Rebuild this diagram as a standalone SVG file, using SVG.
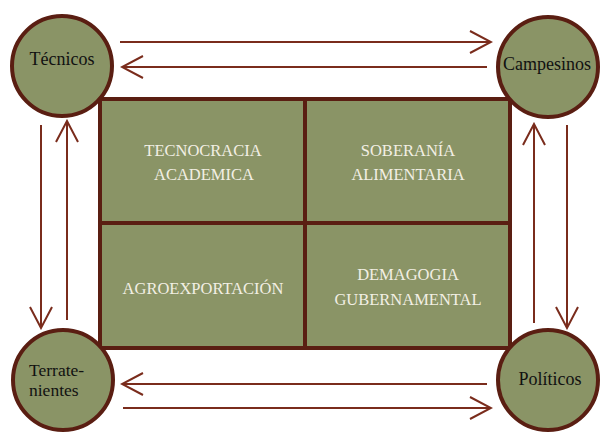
<svg xmlns="http://www.w3.org/2000/svg" width="600" height="432" viewBox="0 0 600 432">
<defs>
<style>
.cell{fill:#8a9466;stroke:#5a1e12;stroke-width:4}
.node{fill:#8a9466;stroke:#5a1e12;stroke-width:4}
.ct{font-family:"Liberation Serif",serif;font-size:16.5px;fill:#f2efe4;text-anchor:middle}
.nt{font-family:"Liberation Serif",serif;font-size:18px;fill:#111;text-anchor:middle}
.ar{stroke:#7a2c1c;stroke-width:2;fill:none;marker-end:url(#ah)}
</style>
<marker id="ah" viewBox="0 0 24 24" refX="22" refY="12" markerWidth="24" markerHeight="24" markerUnits="userSpaceOnUse" orient="auto">
<path d="M1,1 L22,12 L1,23" fill="none" stroke="#7a2c1c" stroke-width="2"/>
</marker>
</defs>
<rect width="600" height="432" fill="#fff"/>
<g id="grid">
<rect class="cell" x="100" y="99" width="205" height="124"/>
<rect class="cell" x="305" y="99" width="205" height="124"/>
<rect class="cell" x="100" y="223" width="205" height="125"/>
<rect class="cell" x="305" y="223" width="205" height="125"/>
<text class="ct" x="203" y="156">TECNOCRACIA</text>
<text class="ct" x="204" y="180">ACADEMICA</text>
<text class="ct" x="408" y="156">SOBERANÍA</text>
<text class="ct" x="408" y="180">ALIMENTARIA</text>
<text class="ct" x="203" y="294">AGROEXPORTACIÓN</text>
<text class="ct" x="408" y="280">DEMAGOGIA</text>
<text class="ct" x="408" y="305">GUBERNAMENTAL</text>
</g>
<g id="connectors">
<line class="ar" x1="120" y1="42" x2="491" y2="42"/>
<line class="ar" x1="487" y1="67" x2="122" y2="67"/>
<line class="ar" x1="487" y1="384" x2="122" y2="384"/>
<line class="ar" x1="123" y1="408" x2="491" y2="408"/>
<line class="ar" x1="41" y1="125" x2="41" y2="328"/>
<line class="ar" x1="67" y1="320" x2="67" y2="121"/>
<line class="ar" x1="534" y1="323" x2="534" y2="124"/>
<line class="ar" x1="567" y1="125" x2="567" y2="328"/>
</g>
<g id="tecnicos">
<circle class="node" cx="62" cy="66" r="50"/>
<text class="nt" x="62" y="65">Técnicos</text>
</g>
<g id="campesinos">
<circle class="node" cx="548" cy="67" r="50"/>
<text class="nt" x="547" y="70">Campesinos</text>
</g>
<g id="terratenientes">
<circle class="node" cx="63" cy="380" r="50"/>
<text class="nt" x="29" y="376" style="text-anchor:start;font-size:17.5px">Terrate-</text>
<text class="nt" x="29" y="396" style="text-anchor:start;font-size:17.5px">nientes</text>
</g>
<g id="politicos">
<circle class="node" cx="548" cy="380" r="50"/>
<text class="nt" x="550" y="385">Políticos</text>
</g>
</svg>
